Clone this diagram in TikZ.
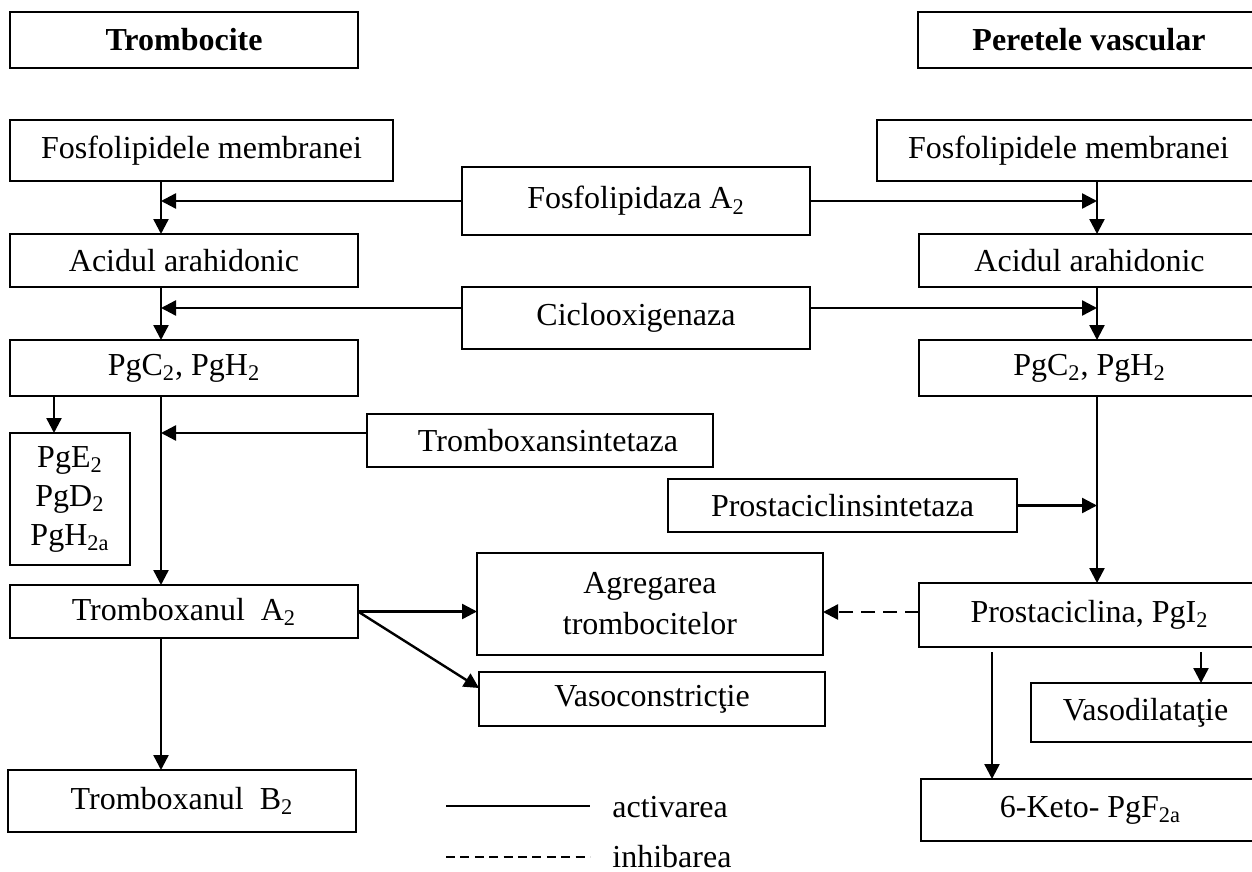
\documentclass[tikz,border=0pt]{standalone}
\usepackage{fontspec}
\setmainfont{Liberation Serif}
\usetikzlibrary{arrows.meta}

\begin{document}
\begin{tikzpicture}[x=0.5pt, y=-0.5pt,
    font=\fontsize{16}{18.5}\selectfont,
    box/.style={draw, line width=1pt, anchor=north west, inner sep=2pt, outer sep=0pt, align=center},
    arr/.style={line width=1.2pt, -{Triangle[length=7.5pt,width=7.5pt]}},
    dasharr/.style={arr, dash pattern=on 7pt off 4pt}]
      \useasboundingbox (0,0) rectangle (1252,872);
      \coordinate (colL) at (161,0);
      \coordinate (colR) at (1097,0);
      \coordinate (colE) at (54,0);
      \coordinate (colK) at (992,0);
      \coordinate (colV) at (1201,0);
      \node (troc) at (10,12) [box, minimum width=174pt, minimum height=28pt] {\textbf{Trombocite}};
      \node (perete) at (918,12) [box, minimum width=171pt, minimum height=28pt] {\textbf{Peretele vascular}};
      \node (fosL) at (10,120) [box, minimum width=191.5pt, minimum height=30.5pt] {Fosfolipidele membranei};
      \node (fosR) at (877,120) [box, minimum width=191.5pt, minimum height=30.5pt] {Fosfolipidele membranei};
      \node (fla) at (462,167) [box, minimum width=174pt, minimum height=34pt] {Fosfolipidaza A\textsubscript{2}};
      \node (acidL) at (10,234) [box, minimum width=174pt, minimum height=26.5pt] {Acidul arahidonic};
      \node (acidR) at (919,234) [box, minimum width=170.5pt, minimum height=26.5pt] {Acidul arahidonic};
      \node (cox) at (462,287) [box, minimum width=174pt, minimum height=31pt] {Ciclooxigenaza};
      \node (pgL) at (10,340) [box, minimum width=174pt, minimum height=28pt] {PgC\textsubscript{2}, PgH\textsubscript{2}};
      \node (pgR) at (919,340) [box, minimum width=170.5pt, minimum height=28pt] {PgC\textsubscript{2}, PgH\textsubscript{2}};
      \node (pgE) at (10,433) [box, minimum width=60pt, minimum height=66pt] {PgE\textsubscript{2}\\[1pt]PgD\textsubscript{2}\\[1pt]PgH\textsubscript{2a}};
      \node (txs) at (367,414) [box, minimum width=173pt, minimum height=26.5pt] {\hspace{8pt}Tromboxansintetaza};
      \node (pcs) at (668,479) [box, minimum width=174.5pt, minimum height=26.5pt] {Prostaciclinsintetaza};
      \node (txa) at (10,585) [box, minimum width=174pt, minimum height=26.5pt] {Tromboxanul\ \ A\textsubscript{2}};
      \node (agr) at (477,553) [box, minimum width=173pt, minimum height=51pt] {Agregarea\\[2pt]trombocitelor};
      \node (vasoc) at (479,672) [box, minimum width=173pt, minimum height=27pt] {Vasoconstricţie};
      \node (pgi) at (919,583) [box, minimum width=170.5pt, minimum height=32pt] {Prostaciclina, PgI\textsubscript{2}};
      \node (vasod) at (1031,683) [box, minimum width=114.5pt, minimum height=29.5pt] {Vasodilataţie};
      \node (txb) at (8,770) [box, minimum width=174pt, minimum height=31pt] {Tromboxanul\ \ B\textsubscript{2}};
      \node (keto) at (921,779) [box, minimum width=169.5pt, minimum height=31pt] {6-Keto- PgF\textsubscript{2a}};
      \coordinate (coxA) at ([yshift=5pt]cox.west);
      \coordinate (coxB) at ([yshift=5pt]cox.east);
      \coordinate (txsA) at ([yshift=3.75pt]txs.west);
      \coordinate (pgiA) at ([yshift=1.5pt]pgi.west);
      \draw[arr] (fosL.south -| colL) -- (acidL.north -| colL);
      \draw[arr] (acidL.south -| colL) -- (pgL.north -| colL);
      \draw[arr] (pgL.south -| colL) -- (txa.north -| colL);
      \draw[arr] (txa.south -| colL) -- (txb.north -| colL);
      \draw[arr] (pgL.south -| colE) -- (pgE.north -| colE);
      \draw[arr] (fla.west) -- (fla.west -| colL);
      \draw[arr] (fla.east) -- (fla.east -| colR);
      \draw[arr] (coxA) -- (coxA -| colL);
      \draw[arr] (coxB) -- (coxB -| colR);
      \draw[arr] (txsA) -- (txsA -| colL);
      \draw[arr] (fosR.south -| colR) -- (acidR.north -| colR);
      \draw[arr] (acidR.south -| colR) -- (pgR.north -| colR);
      \draw[arr] (pgR.south -| colR) -- (pgi.north -| colR);
      \draw[arr] (pcs.east) -- (pcs.east -| colR);
      \draw[arr] (txa.east) -- (txa.east -| agr.west);
      \draw[arr] (txa.east) -- ([yshift=5.5pt]vasoc.west);
      \draw[dasharr] (pgiA) -- (pgiA -| agr.east);
      \draw[arr, shorten <=2.5pt] (pgi.south -| colK) -- (keto.north -| colK);
      \draw[arr, shorten <=2.5pt] (pgi.south -| colV) -- (vasod.north -| colV);
      \coordinate (legA) at (446,806);
      \coordinate (legB) at (590,806);
      \coordinate (legC) at (446,857);
      \coordinate (legD) at (590,857);
      \draw[line width=1pt] (legA) -- (legB);
      \draw[line width=0.8pt, dash pattern=on 4.5pt off 2.7pt] (legC) -- (legD);
      \node (actText) at (612,817) [anchor=base west, inner sep=0pt] {activarea};
      \node (inhText) at (612,867) [anchor=base west, inner sep=0pt] {inhibarea};
    \end{tikzpicture}
\end{document}
